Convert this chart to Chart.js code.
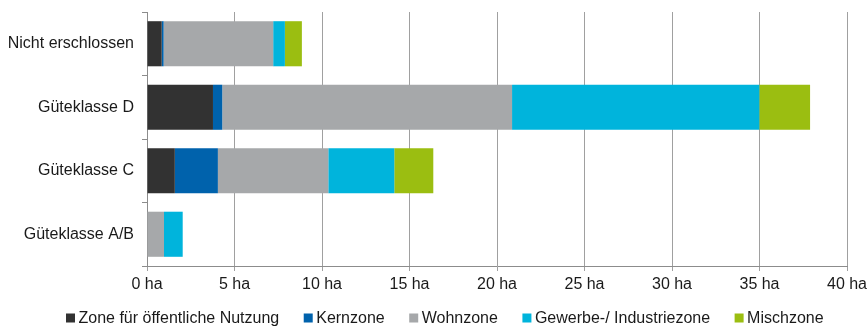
<!DOCTYPE html>
<html>
<head>
<meta charset="utf-8">
<script src="https://cdn.jsdelivr.net/npm/chart.js@4"></script>
<style>
  html, body { margin: 0; padding: 0; background: #fff; }
  #wrap { width: 867px; height: 326px; }
</style>
</head>
<body>
<div id="wrap"><canvas id="flaechen"></canvas></div>
<script>
// Flächen nach ÖV-Güteklasse, in Hektaren
const klassen = ["Nicht erschlossen", "Güteklasse D", "Güteklasse C", "Güteklasse A/B"];
const zonen = ["Zone für öffentliche Nutzung", "Kernzone", "Wohnzone", "Gewerbe-/ Industriezone", "Mischzone"];
const oeffentlich = [0.84, 3.77, 1.59, 0];
const kernzone    = [0.11, 0.53, 2.46, 0];
const wohnzone    = [6.26, 16.56, 6.31, 0.97];
const gewerbe     = [0.67, 14.13, 3.77, 1.07];
const mischzone   = [0.97, 2.9, 2.23, 0];
const farben = ["#323232", "#0062ac", "#a6a8aa", "#00b4dc", "#9bbe11"];

const werte = [oeffentlich, kernzone, wohnzone, gewerbe, mischzone];

const SCHRIFT = "'Liberation Sans', Arial, sans-serif";
Chart.defaults.font.family = SCHRIFT;
Chart.defaults.font.size = 16;
Chart.defaults.color = "#1a1a1a";

// eigene Legende unten, eine Zeile ab links
const legendeUnten = {
    id: "legendeUnten",
    afterDraw(chart) {
        const ctx = chart.ctx;
        const box = 9, luecke = 3.5, abstand = 24.5;
        const y = 318;
        ctx.save();
        ctx.font = "16px " + SCHRIFT;
        ctx.textBaseline = "middle";
        let x = 66;
        chart.data.datasets.forEach(ds => {
            ctx.fillStyle = ds.backgroundColor;
            ctx.fillRect(x, y - box / 2, box, box);
            ctx.fillStyle = "#1a1a1a";
            ctx.fillText(ds.label, x + box + luecke, y + 1);
            x += box + luecke + ctx.measureText(ds.label).width + abstand;
        });
        ctx.restore();
    }
};

new Chart(document.getElementById("flaechen"), {
    type: "bar",
    data: {
        labels: klassen,
        datasets: zonen.map((z, i) => ({
            label: z,
            data: werte[i],
            backgroundColor: farben[i],
            borderWidth: 0,
            categoryPercentage: 1,
            barPercentage: 0.71,
        }))
    },
    options: {
        indexAxis: "y",
        responsive: true,
        maintainAspectRatio: false,
        animation: false,
        layout: { padding: { top: 12, right: 20, left: 0, bottom: 32 } },
        scales: {
            x: {
                stacked: true,
                min: 0,
                max: 40,
                ticks: { stepSize: 5, padding: 4, callback: v => v + " ha" },
                grid: { color: "#a0a0a0", tickLength: 5 },
                border: { color: "#8c8c8c" },
                afterFit: s => { s.height = 28; s.paddingLeft = 0; s.paddingRight = 0; },
            },
            y: {
                stacked: true,
                ticks: { padding: 8 },
                grid: { offset: true, drawOnChartArea: false, color: "#8c8c8c", tickLength: 5 },
                border: { color: "#8c8c8c" },
                afterFit: s => { s.width = 147; s.paddingTop = 0; s.paddingBottom = 0; },
            }
        },
        plugins: {
            tooltip: { enabled: false },
            legend: { display: false }
        }
    },
    plugins: [legendeUnten]
});
</script>
</body>
</html>
